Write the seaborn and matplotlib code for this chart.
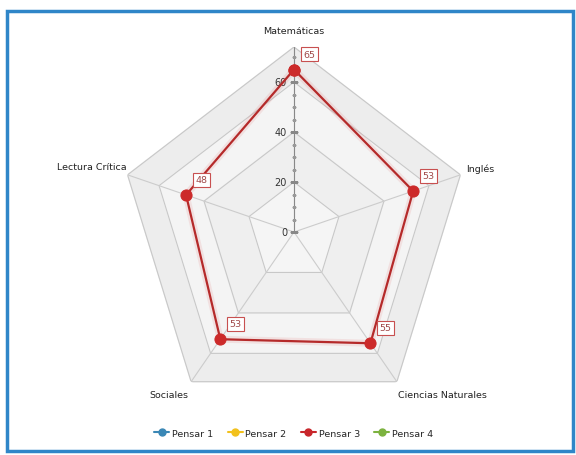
import numpy as np
import pandas as pd
import matplotlib
matplotlib.use("Agg")
import matplotlib.pyplot as plt
from matplotlib.lines import Line2D
from matplotlib.patches import Rectangle
import seaborn as sns

# data
categories = ["Matemáticas", "Inglés", "Ciencias Naturales", "Sociales", "Lectura Crítica"]
pensar3 = [65, 53, 55, 53, 48]
series_names = ["Pensar 1", "Pensar 2", "Pensar 3", "Pensar 4"]
series_colors = ["#3a87b5", "#f2c11c", "#c8262b", "#7cb23f"]
tick_values = [0, 20, 40, 60]
r_max = 74

sns.set_theme(style="white")
plt.rcParams["font.family"] = ["DejaVu Sans"]

fig = plt.figure(figsize=(5.76, 4.56), dpi=100)
ax = fig.add_axes([0.2066, 0.0833, 0.6076, 0.8114], projection="polar")
ax.set_aspect("auto")
ax.set_theta_offset(np.pi / 2)
ax.set_theta_direction(-1)
ax.set_ylim(0, r_max)
ax.grid(False)
ax.spines["polar"].set_visible(False)
ax.set_xticks([])
ax.set_yticks([])
ax.set_facecolor("none")

n = len(categories)
theta = np.arange(n) * 2 * np.pi / n
theta_c = np.append(theta, theta[0])

# background bands
rings = [r_max, 60, 40, 20]
band_cols = ["#ededed", "#f4f4f4", "#efefef", "#f5f5f5"]
for r, c in zip(rings, band_cols):
    ax.fill(theta_c, [r] * (n + 1), color=c, zorder=0)
for r in rings:
    ax.plot(theta_c, [r] * (n + 1), color="#c8c8c8", lw=0.8, zorder=1)
for t in theta:
    ax.plot([t, t], [0, r_max], color="#cccccc", lw=0.8, zorder=1)

# value axis
ax.plot([0, 0], [0, r_max], color="#888888", lw=0.8, zorder=2)
minor = np.arange(0, r_max, 5)
ax.plot([0] * len(minor), minor, ls="none", marker="_", ms=3, color="#999999", zorder=2)
ax.plot([0] * len(tick_values), tick_values, ls="none", marker="_", ms=6, color="#888888", zorder=2)
for v in tick_values:
    ax.annotate(str(v), (0, v), xytext=(-5, 0), textcoords="offset points",
                ha="right", va="center", fontsize=7, color="#333333")

# category labels
label_offsets = [(0, 12), (4, 5), (33, -9), (-16, -9), (-1, 6)]
label_ha = ["center", "left", "center", "center", "right"]
for t, name, off, ha in zip(theta, categories, label_offsets, label_ha):
    ax.annotate(name, (t, r_max), xytext=off, textcoords="offset points",
                ha=ha, va="center", fontsize=6.8, color="#222222")

# series
df = pd.DataFrame({"theta": theta_c, "valor": pensar3 + [pensar3[0]]})
ax.plot(df["theta"], df["valor"], color="#e05050", lw=5, alpha=0.12, zorder=3)
sns.lineplot(data=df, x="theta", y="valor", sort=False, estimator=None, ax=ax,
             color="#b52a2a", lw=1.6, marker="o", markersize=8,
             markerfacecolor="#cc2a2a", markeredgecolor="#cc2a2a", zorder=4)
ax.set_xlabel("")
ax.set_ylabel("")
ax.set_ylim(0, r_max)

for t, v in zip(theta, pensar3):
    ax.annotate(str(v), (t, v), xytext=(11, 11), textcoords="offset points",
                ha="center", va="center", fontsize=6.8, color="#a04848",
                bbox=dict(boxstyle="square,pad=0.25", fc="white", ec="#c85050", lw=0.8),
                zorder=5)

# legend
handles = [Line2D([], [], color=c, lw=1.5, marker="o", ms=5) for c in series_colors]
fig.legend(handles, series_names, loc="center", bbox_to_anchor=(0.51, 0.048), ncol=4,
           frameon=False, fontsize=6.8, handlelength=1.6, columnspacing=1.5,
           handletextpad=0.3)

# outer border
fig.patches.append(Rectangle((7 / 576, 1 - 452 / 456), 566 / 576, 440 / 456,
                             transform=fig.transFigure, fill=False,
                             ec="#2f86c8", lw=2.5))

fig.savefig("out.png", dpi=100)
